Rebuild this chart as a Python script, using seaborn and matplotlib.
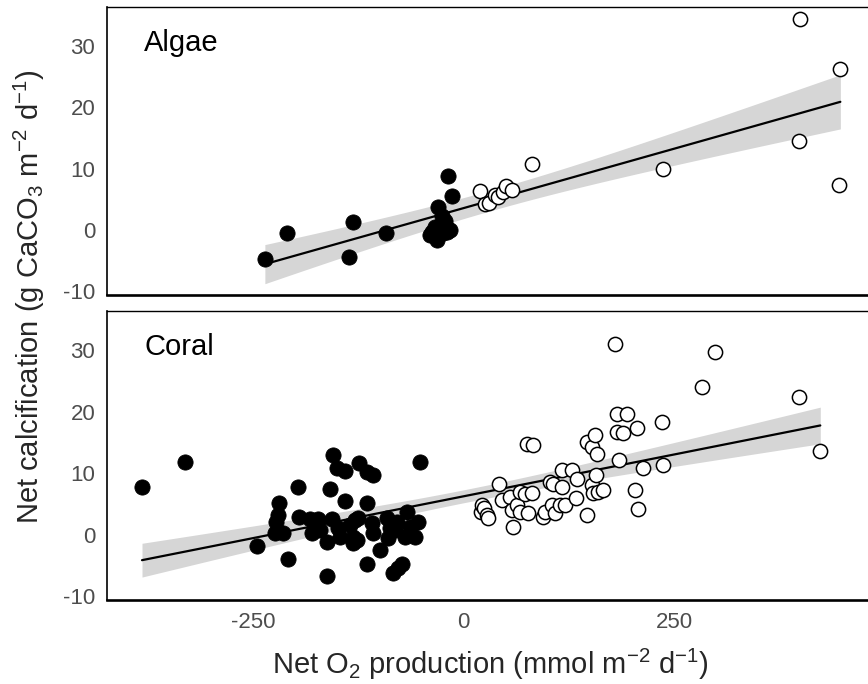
import numpy as np
import pandas as pd
import matplotlib
matplotlib.use("Agg")
import matplotlib.pyplot as plt
import seaborn as sns

# ── Data (x: net O2, y: net calcification) ─────────────────────────────────────
algae_neg_x = [-235.7, -209.3, -131.6, -136.4, -92.0, -18.0, -14.0, -30.0, -26.0,
               -22.0, -33.8, -20.0, -37.8, -39.8, -24.0, -31.8, -20.0, -16.0]
algae_neg_y = [-4.8, -0.44, 1.26, -4.36, -0.44, 8.8, 5.56, 3.8, 2.2,
               1.36, 0.54, 0.28, -0.28, -0.8, -0.54, -1.63, -0.28, 0.0]
algae_pos_x = [19.6, 25.5, 29.9, 37.4, 41.3, 47.3, 50.5, 57.2,
               81.0, 237.3, 398.8, 447.2, 398.0, 446.0]
algae_pos_y = [6.26, 4.2, 4.4, 5.7, 5.4, 6.1, 7.1, 6.5,
               10.8, 10.0, 34.4, 26.3, 14.5, 7.24]

coral_neg_x = [-381.5, -330.0, -245.0, -224.0, -222.0, -220.0, -218.8, -214.0, -208.0,
               -196.2, -195.0, -182.3, -180.3, -172.4, -170.4, -162.5, -161.8, -158.6,
               -156.5, -154.6, -149.8, -148.7, -146.7, -140.7, -140.7, -134.8, -130.9,
               -130.9, -128.9, -124.0, -126.8, -125.0, -115.0, -115.0, -115.0, -109.0,
               -107.0, -107.0, -99.2, -91.2, -89.3, -87.3, -83.4, -81.4, -79.3, -77.4,
               -73.4, -69.5, -67.5, -63.5, -57.6, -53.7, -51.7]
coral_neg_y = [7.7, 11.8, -1.87, 0.2, 2.1, 3.2, 5.1, 0.2, -4.04,
               7.8, 2.8, 2.5, 0.2, 2.5, 0.73, -1.17, -6.76, 7.5,
               2.5, 12.9, 10.8, 1.0, -0.36, 10.4, 5.46, 1.55, -0.36,
               -1.43, 2.36, 11.7, -0.9, 2.64, 10.2, 5.08, -4.8, 1.82,
               9.7, 0.2, -2.5, 2.64, -0.62, 1.0, -6.3, 0.73, 2.1, -5.5,
               -4.8, -0.36, 3.7, 1.27, -0.36, 2.1, 11.86]
coral_pos_x = [20.4, 21.6, 24.3, 27.5, 29.5, 42.5, 45.4, 55.2, 57.2, 58.4,
               63.2, 67.1, 67.1, 73.0, 75.0, 77.0, 81.0, 83.0, 94.0, 96.8,
               102.7, 104.8, 106.7, 108.7, 114.6, 116.6, 116.6, 120.5, 128.5, 135.0,
               134.0, 146.3, 146.3, 152.3, 152.3, 154.2, 156.2, 157.4, 158.2, 160.1,
               166.0, 180.3, 182.0, 182.0, 185.0, 189.0, 193.8, 203.7, 205.7, 207.6,
               213.5, 235.4, 236.6, 282.9, 298.7, 397.6, 423.4]
coral_pos_y = [3.7, 4.8, 4.27, 3.2, 2.64, 8.2, 5.6, 6.16, 4.0, 1.17,
               4.8, 6.97, 3.7, 6.6, 14.7, 3.45, 6.7, 14.6, 2.9, 3.7,
               8.6, 4.8, 8.3, 3.45, 4.8, 10.5, 7.8, 4.8, 10.5, 9.0,
               6.0, 15.1, 3.2, 14.3, 8.06, 6.7, 16.2, 9.7, 13.2, 6.97,
               7.25, 31.0, 19.7, 16.7, 12.2, 16.5, 19.6, 7.25, 17.3, 4.1,
               10.9, 18.4, 11.3, 24.1, 29.8, 22.4, 13.65]

panel_names = ["Algae", "Coral"]
x_ticks = [-250, 0, 250]
y_ticks = [-10, 0, 10, 20, 30]


def make_frame(neg_x, neg_y, pos_x, pos_y):
    return pd.DataFrame({
        "o2": neg_x + pos_x,
        "calc": neg_y + pos_y,
        "net": ["neg"] * len(neg_x) + ["pos"] * len(pos_x),
    })


def lm_band(x, y, n=80):
    """Analytic 95% confidence band of an OLS fit (like geom_smooth(method='lm'))."""
    x = np.asarray(x, float)
    y = np.asarray(y, float)
    slope, icpt = np.polyfit(x, y, 1)
    resid = y - (icpt + slope * x)
    df = len(x) - 2
    sigma = np.sqrt(np.sum(resid ** 2) / df)
    grid = np.linspace(x.min(), x.max(), n)
    se = sigma * np.sqrt(1 / len(x) + (grid - x.mean()) ** 2 / np.sum((x - x.mean()) ** 2))
    t = 1.96 + 2.4 / df            # close enough to the t quantile for these df
    fit = icpt + slope * grid
    return grid, fit - t * se, fit + t * se


frames = {
    "Algae": make_frame(algae_neg_x, algae_neg_y, algae_pos_x, algae_pos_y),
    "Coral": make_frame(coral_neg_x, coral_neg_y, coral_pos_x, coral_pos_y),
}

# ── Style ──────────────────────────────────────────────────────────────────────
sns.set_style("white")
plt.rcParams["font.family"] = ["Liberation Sans", "DejaVu Sans"]
plt.rcParams["mathtext.fontset"] = "custom"
plt.rcParams["mathtext.rm"] = "Liberation Sans"
plt.rcParams["mathtext.it"] = "Liberation Sans:italic"
plt.rcParams["axes.unicode_minus"] = False

fig = plt.figure(figsize=(8.68, 6.84), dpi=100)
ax_top = fig.add_axes([0.1233, 0.5687, 0.8767, 0.4211])
ax_bot = fig.add_axes([0.1233, 0.1228, 0.8767, 0.4225])

for ax, name in zip([ax_top, ax_bot], panel_names):
    df = frames[name]
    gx, lo, hi = lm_band(df["o2"], df["calc"])
    ax.fill_between(gx, lo, hi, color="#d6d6d6", linewidth=0, zorder=1)
    sns.regplot(data=df, x="o2", y="calc", ax=ax, scatter=False, ci=None,
                color="black", line_kws={"linewidth": 1.6, "zorder": 2})
    sns.scatterplot(data=df[df["net"] == "neg"], x="o2", y="calc", ax=ax,
                    color="black", edgecolor="black", s=120, linewidth=0.6,
                    zorder=3, legend=False)
    sns.scatterplot(data=df[df["net"] == "pos"], x="o2", y="calc", ax=ax,
                    color="white", edgecolor="black", s=105, linewidth=1.1,
                    zorder=4, legend=False)

    ax.set_xlim(-423, 480)
    ax.set_ylim(-10.65, 36.4)
    ax.set_yticks(y_ticks)
    ax.set_yticklabels([str(t) for t in y_ticks])
    ax.set_xlabel("")
    ax.set_ylabel("")
    ax.text(0.049, 0.925, name, transform=ax.transAxes, ha="left", va="top",
            fontsize=21, color="black")

    ax.spines["top"].set_linewidth(1.0)
    ax.spines["left"].set_linewidth(1.2)
    ax.spines["bottom"].set_linewidth(1.9)
    for side in ["top", "left", "bottom"]:
        ax.spines[side].set_color("black")
    ax.spines["right"].set_visible(False)
    ax.tick_params(axis="both", direction="out", length=5, width=1.0, pad=3.5,
                   color="#333333", labelcolor="#4d4d4d", labelsize=16)

ax_top.set_xticks([])
ax_bot.set_xticks(x_ticks)
ax_bot.set_xticklabels([str(t) for t in x_ticks])
ax_top.tick_params(axis="x", bottom=False, labelbottom=False)

fig.text(0.034, 0.566, r"Net calcification (g CaCO$_3$ m$^{-2}$ d$^{-1}$)",
         rotation=90, ha="center", va="center", fontsize=21)
fig.text(0.5645, 0.029, r"Net O$_2$ production (mmol m$^{-2}$ d$^{-1}$)",
         ha="center", va="center", fontsize=21)

fig.savefig("out.png", dpi=100)
